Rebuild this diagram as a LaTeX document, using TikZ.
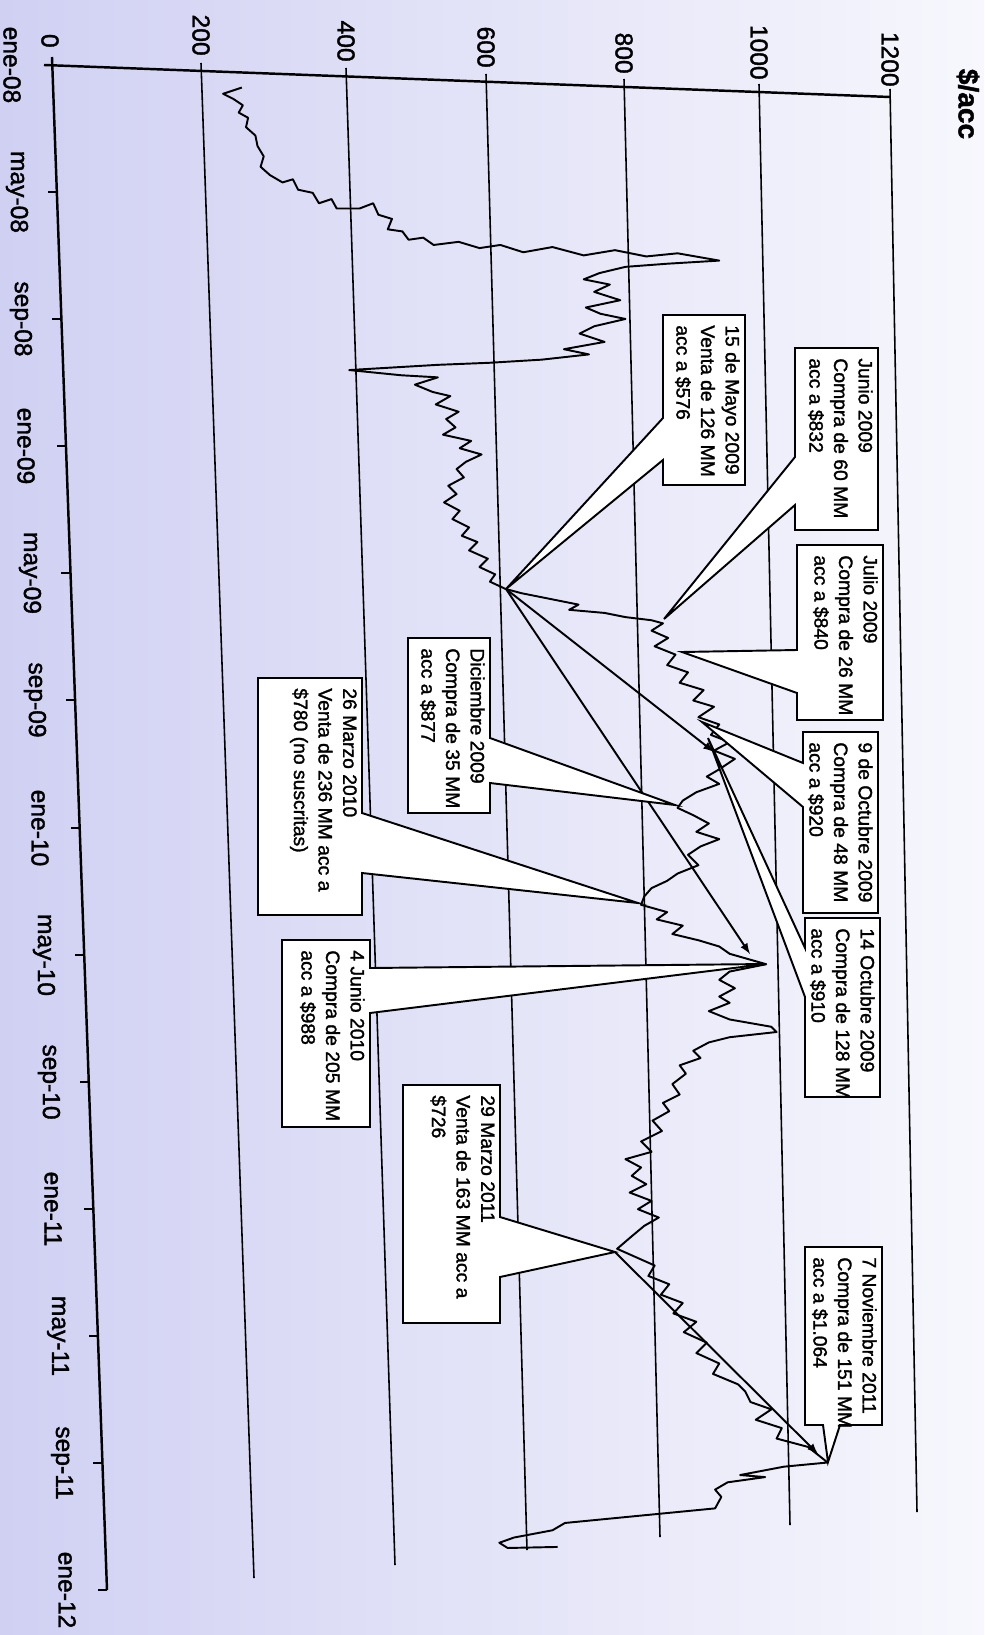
\documentclass[tikz,border=0pt]{standalone}
\usepackage{fontspec}
\setmainfont{Liberation Sans}[FakeBold=1.5]
\usepackage{tikz}
\pgfdeclarelayer{edgelayer}
\pgfdeclarelayer{nodelayer}
\pgfsetlayers{edgelayer,nodelayer,main}
\definecolor{scanleft}{RGB}{208,208,243}
\definecolor{scanright}{RGB}{247,247,253}
\tikzstyle{none}=[inner sep=0pt]
\tikzstyle{valuelabel}=[inner sep=0pt, rotate=-90, anchor=east, font=\fontsize{14}{16}\selectfont]
\tikzstyle{datelabel}=[inner sep=0pt, rotate=-90, font=\fontsize{14}{16}\selectfont]
\tikzstyle{unitlabel}=[inner sep=0pt, rotate=-90, font=\fontsize{16}{18}\selectfont\bfseries]
\tikzstyle{notetext}=[inner sep=0pt, rotate=-90, anchor=north west, align=left, font=\fontsize{11}{14}\selectfont]
\tikzstyle{callout}=[draw=black, fill=white, line width=1.1pt]
\tikzstyle{gridline}=[draw=black, line width=0.9pt]
\tikzstyle{axisline}=[draw=black, line width=1.4pt]
\tikzstyle{price}=[draw=black, line width=1.1pt, line join=round]
\tikzstyle{pointer}=[draw=black, line width=1.1pt, -latex]

\begin{document}
\begin{tikzpicture}[x=0.02cm, y=-0.02cm]
	\useasboundingbox (0,0) rectangle (984,1635);
	\begin{pgfonlayer}{nodelayer}
		% axes and grid ends
		\node [style=none] (0) at (52,57) {};
		\node [style=none] (1) at (107,1590) {};
		\node [style=none] (2) at (44,65) {};
		\node [style=none] (3) at (890,97) {};
		\node [style=none] (4) at (201,63) {};
		\node [style=none] (5) at (254,1578) {};
		\node [style=none] (6) at (346,68) {};
		\node [style=none] (7) at (395,1565) {};
		\node [style=none] (8) at (486,74) {};
		\node [style=none] (9) at (527,1550) {};
		\node [style=none] (10) at (624,79) {};
		\node [style=none] (11) at (660,1537) {};
		\node [style=none] (12) at (759,84) {};
		\node [style=none] (13) at (790,1525) {};
		\node [style=none] (14) at (890,89) {};
		\node [style=none] (15) at (917,1512) {};
		% date ticks
		\node [style=none] (16) at (48,192) {};
		\node [style=none] (17) at (57,192) {};
		\node [style=none] (18) at (52,319) {};
		\node [style=none] (19) at (61,319) {};
		\node [style=none] (20) at (57,446) {};
		\node [style=none] (21) at (66,446) {};
		\node [style=none] (22) at (61,573) {};
		\node [style=none] (23) at (70,573) {};
		\node [style=none] (24) at (66,700) {};
		\node [style=none] (25) at (75,700) {};
		\node [style=none] (26) at (71,828) {};
		\node [style=none] (27) at (80,828) {};
		\node [style=none] (28) at (75,955) {};
		\node [style=none] (29) at (84,955) {};
		\node [style=none] (30) at (80,1082) {};
		\node [style=none] (31) at (89,1082) {};
		\node [style=none] (32) at (84,1209) {};
		\node [style=none] (33) at (93,1209) {};
		\node [style=none] (34) at (89,1336) {};
		\node [style=none] (35) at (98,1336) {};
		\node [style=none] (36) at (93,1463) {};
		\node [style=none] (37) at (102,1463) {};
		\node [style=none] (38) at (98,1590) {};
		\node [style=none] (39) at (107,1590) {};
		% value labels
		\node [style=valuelabel] (40) at (50,48) {0};
		\node [style=valuelabel] (41) at (201,56) {200};
		\node [style=valuelabel] (42) at (346,62) {400};
		\node [style=valuelabel] (43) at (486,68) {600};
		\node [style=valuelabel] (44) at (624,74) {800};
		\node [style=valuelabel] (45) at (759,80) {1000};
		\node [style=valuelabel] (46) at (890,87) {1200};
		\node [style=unitlabel] (47) at (968,104) {\$/acc};
		% date labels
		\node [style=datelabel] (48) at (12,65) {ene-08};
		\node [style=datelabel] (49) at (17,192) {may-08};
		\node [style=datelabel] (50) at (21,319) {sep-08};
		\node [style=datelabel] (51) at (26,446) {ene-09};
		\node [style=datelabel] (52) at (30,573) {may-09};
		\node [style=datelabel] (53) at (35,700) {sep-09};
		\node [style=datelabel] (54) at (40,828) {ene-10};
		\node [style=datelabel] (55) at (44,955) {may-10};
		\node [style=datelabel] (56) at (49,1082) {sep-10};
		\node [style=datelabel] (57) at (53,1209) {ene-11};
		\node [style=datelabel] (58) at (58,1336) {may-11};
		\node [style=datelabel] (59) at (62,1463) {sep-11};
		\node [style=datelabel] (60) at (67,1590) {ene-12};
		% callout tips
		\node [style=none] (61) at (506,589) {};
		\node [style=none] (62) at (664,619) {};
		\node [style=none] (63) at (682,652) {};
		\node [style=none] (64) at (702,722) {};
		\node [style=none] (65) at (708,738) {};
		\node [style=none] (66) at (675,805) {};
		\node [style=none] (67) at (638,903) {};
		\node [style=none] (68) at (766,964) {};
		\node [style=none] (69) at (615,1252) {};
		\node [style=none] (70) at (828,1462) {};
		% arrow ends
		\node [style=none] (81) at (714,752) {};
		\node [style=none] (82) at (750,954) {};
		\node [style=none] (83) at (818,1454) {};
		% callouts
		\draw [style=callout] (663,315) -- (745,315) -- (745,485) -- (663,485) -- (663,460) -- (61.center) -- (663,418) -- cycle;
		\draw [style=callout] (795,348) -- (878,348) -- (878,530) -- (795,530) -- (795,505) -- (62.center) -- (795,457) -- cycle;
		\draw [style=callout] (797,545) -- (883,545) -- (883,720) -- (797,720) -- (797,693) -- (63.center) -- (797,650) -- cycle;
		\draw [style=callout] (803,732) -- (878,732) -- (878,913) -- (803,913) -- (803,807) -- (64.center) -- (803,763) -- cycle;
		\draw [style=callout] (805,918) -- (880,918) -- (880,1097) -- (805,1097) -- (805,997) -- (65.center) -- (805,948) -- cycle;
		\draw [style=callout] (408,638) -- (490,638) -- (490,738) -- (66.center) -- (490,783) -- (490,813) -- (408,813) -- cycle;
		\draw [style=callout] (258,678) -- (362,678) -- (362,813) -- (67.center) -- (362,873) -- (362,915) -- (258,915) -- cycle;
		\draw [style=callout] (282,940) -- (370,940) -- (370,968) -- (68.center) -- (370,1013) -- (370,1127) -- (282,1127) -- cycle;
		\draw [style=callout] (403,1085) -- (500,1085) -- (500,1217) -- (69.center) -- (500,1277) -- (500,1323) -- (403,1323) -- cycle;
		\draw [style=callout] (805,1247) -- (882,1247) -- (882,1425) -- (840,1425) -- (70.center) -- (823,1425) -- (805,1425) -- cycle;
		\node [style=notetext] (71) at (740,325) {15 de Mayo 2009\\Venta de 126 MM\\acc a \$576};
		\node [style=notetext] (72) at (873,358) {Junio 2009\\Compra de 60 MM\\acc a \$832};
		\node [style=notetext] (73) at (878,555) {Julio 2009\\Compra de 26 MM\\acc a \$840};
		\node [style=notetext] (74) at (873,742) {9 de Octubre 2009\\Compra de 48 MM\\acc a \$920};
		\node [style=notetext] (75) at (875,928) {14 Octubre 2009\\Compra de 128 MM\\acc a \$910};
		\node [style=notetext] (76) at (485,648) {Diciembre 2009\\Compra de 35 MM\\acc a \$877};
		\node [style=notetext] (77) at (357,688) {26 Marzo 2010\\Venta de 236 MM acc a\\\$780 (no suscritas)};
		\node [style=notetext] (78) at (365,950) {4 Junio 2010\\Compra de 205 MM\\acc a \$988};
		\node [style=notetext] (79) at (495,1095) {29 Marzo 2011\\Venta de 163 MM acc a\\\$726};
		\node [style=notetext] (80) at (877,1257) {7 Noviembre 2011\\Compra de 151 MM\\acc a \$1.064};
	\end{pgfonlayer}
	\begin{pgfonlayer}{edgelayer}
		\shade [left color=scanleft, right color=scanright] (0,0) rectangle (984,1635);
		\draw [style=gridline] (4.center) to (5.center);
		\draw [style=gridline] (6.center) to (7.center);
		\draw [style=gridline] (8.center) to (9.center);
		\draw [style=gridline] (10.center) to (11.center);
		\draw [style=gridline] (12.center) to (13.center);
		\draw [style=gridline] (14.center) to (15.center);
		\draw [style=axisline] (0.center) to (1.center);
		\draw [style=axisline] (2.center) to (3.center);
		\draw [style=axisline] (16.center) to (17.center);
		\draw [style=axisline] (18.center) to (19.center);
		\draw [style=axisline] (20.center) to (21.center);
		\draw [style=axisline] (22.center) to (23.center);
		\draw [style=axisline] (24.center) to (25.center);
		\draw [style=axisline] (26.center) to (27.center);
		\draw [style=axisline] (28.center) to (29.center);
		\draw [style=axisline] (30.center) to (31.center);
		\draw [style=axisline] (32.center) to (33.center);
		\draw [style=axisline] (34.center) to (35.center);
		\draw [style=axisline] (36.center) to (37.center);
		\draw [style=axisline] (38.center) to (39.center);
		% price
		\draw [style=price, scale=1.0424] (232,84) -- (214,90) -- (224,95) -- (233,101) -- (229,108) -- (238,113) -- (236,122) -- (245,130) -- (247,140) -- (253,150) -- (250,160) -- (259,168) -- (271,175) -- (281,172) -- (286,182) -- (300,185) -- (306,195) -- (318,191) -- (323,200) -- (345,200) -- (358,195) -- (363,206) -- (376,210) -- (372,220) -- (386,222) -- (392,230) -- (406,228) -- (416,235) -- (440,232) -- (460,238) -- (480,235) -- (502,242) -- (530,237) -- (560,245) -- (590,240) -- (620,246) -- (650,243) -- (690,250) -- (640,253) -- (600,256) -- (575,262) -- (560,268) -- (585,273) -- (570,280) -- (595,288) -- (562,295) -- (576,301) -- (600,306) -- (570,313) -- (556,320) -- (580,328) -- (541,335) -- (565,340) -- (520,345) -- (470,348) -- (420,350) -- (335,355) -- (385,360) -- (420,362) -- (398,369) -- (415,376) -- (432,380) -- (418,388) -- (440,395) -- (428,402) -- (437,410) -- (425,417) -- (452,423) -- (441,430) -- (462,436) -- (447,443) -- (438,450) -- (445,458) -- (430,466) -- (438,474) -- (426,482) -- (441,490) -- (434,498) -- (450,506) -- (443,514) -- (458,520) -- (450,528) -- (468,536) -- (460,544) -- (475,551) -- (470,558) -- (485,565) -- (500,569) -- (530,575) -- (555,580) -- (546,585) -- (580,588) -- (600,592) -- (625,595) -- (636,598) -- (625,605) -- (641,612) -- (628,620) -- (648,628) -- (640,638) -- (660,645) -- (652,655) -- (675,662) -- (665,672) -- (685,678) -- (670,688) -- (690,695) -- (682,705) -- (700,712) -- (685,720) -- (705,728) -- (690,738) -- (678,745) -- (690,752) -- (668,760) -- (655,768) -- (650,775) -- (665,782) -- (680,790) -- (668,798) -- (690,805) -- (672,812) -- (660,820) -- (670,830) -- (650,838) -- (640,845) -- (625,852) -- (618,860) -- (615,868) -- (640,875) -- (630,882) -- (655,888) -- (645,896) -- (670,902) -- (690,908) -- (700,915) -- (735,925) -- (700,932) -- (690,940) -- (705,948) -- (690,956) -- (700,962) -- (680,970) -- (700,978) -- (740,985) -- (745,990) -- (700,995) -- (680,1000) -- (665,1008) -- (672,1015) -- (652,1022) -- (658,1030) -- (645,1040) -- (652,1050) -- (636,1058) -- (642,1066) -- (626,1075) -- (635,1085) -- (615,1095) -- (625,1105) -- (600,1112) -- (615,1120) -- (606,1128) -- (620,1136) -- (604,1144) -- (625,1152) -- (612,1160) -- (632,1168) -- (618,1176) -- (606,1186) -- (592,1198) -- (610,1206) -- (628,1214) -- (622,1224) -- (642,1232) -- (634,1242) -- (655,1250) -- (646,1260) -- (668,1268) -- (656,1278) -- (678,1288) -- (668,1298) -- (690,1308) -- (684,1318) -- (708,1328) -- (715,1335) -- (720,1345) -- (740,1352) -- (725,1362) -- (750,1370) -- (745,1380) -- (775,1388) -- (794,1403) -- (752,1407) -- (710,1415) -- (734,1417) -- (698,1422) -- (686,1429) -- (692,1436) -- (686,1447) -- (542,1461) -- (530,1468) -- (493,1475) -- (479,1480) -- (487,1485) -- (535,1484);
		\draw [style=pointer] (61.center) to (81.center);
		\draw [style=pointer] (61.center) to (82.center);
		\draw [style=pointer] (69.center) to (83.center);
	\end{pgfonlayer}
\end{tikzpicture}
\end{document}
